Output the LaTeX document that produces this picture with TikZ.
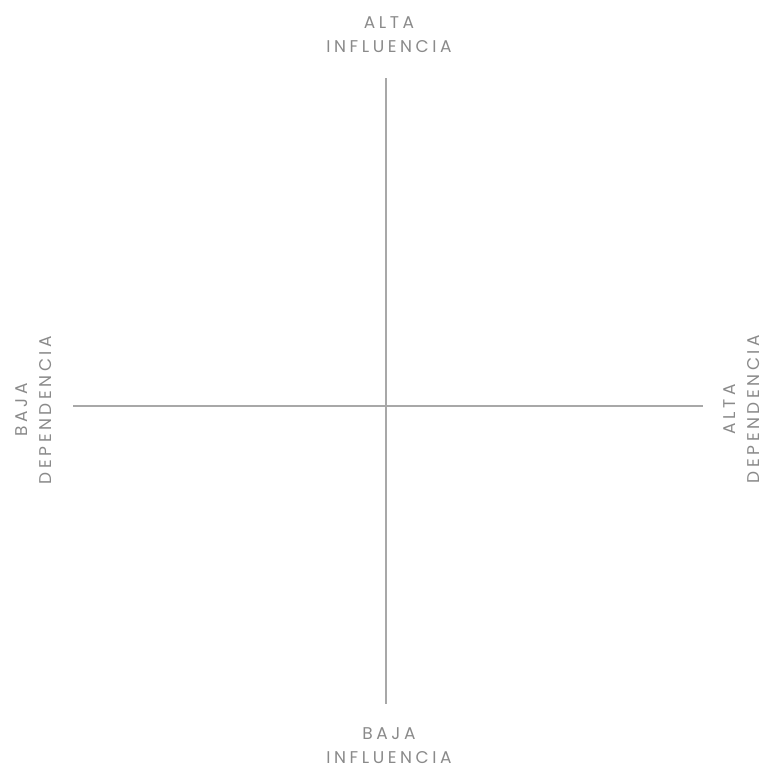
\documentclass[tikz,border=0pt]{standalone}
\usepackage{fontspec}
\setmainfont{Poppins}[LetterSpace=21]
\definecolor{axisgray}{HTML}{A8A8A8}
\definecolor{labelgray}{HTML}{8A8A8A}
\begin{document}
\begin{tikzpicture}[x=1pt,y=-1pt,
  axis/.style={draw=axisgray,line width=1.3pt},
  lbl/.style={text=labelgray,font=\fontsize{17}{24}\selectfont,align=center,inner sep=0pt}]
\useasboundingbox (0,0) rectangle (769,771);
\coordinate (top) at (386,78);
\coordinate (bot) at (386,704);
\coordinate (lft) at (73,406);
\coordinate (rgt) at (703,406);
\draw[axis] (top) -- (bot);
\draw[axis] (lft) -- (rgt);
\node[lbl] (tl) at (389,35) {ALTA\\INFLUENCIA};
\node[lbl] (bl) at (389,746) {BAJA\\INFLUENCIA};
\node[lbl,rotate=90] (ll) at (34,410) {BAJA\\DEPENDENCIA};
\node[lbl,rotate=90] (rl) at (742,409) {ALTA\\DEPENDENCIA};
\end{tikzpicture}
\end{document}
